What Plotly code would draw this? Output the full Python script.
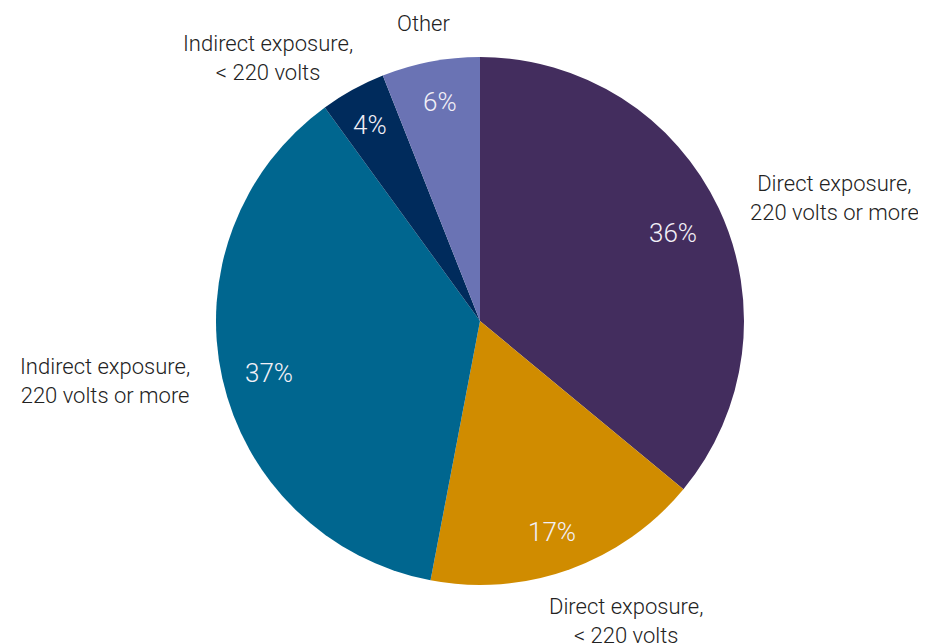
import math
import plotly.graph_objects as go

labels = ["Direct exposure,<br>220 volts or more", "Direct exposure,<br>< 220 volts",
          "Indirect exposure,<br>220 volts or more", "Indirect exposure,<br>< 220 volts", "Other"]
values = [36, 17, 37, 4, 6]
colors = ["#432D5E", "#D08C00", "#00668F", "#002B5C", "#6A73B4"]

W, H = 926, 644
cx, cy, R = 480, 320, 264  # desired on-screen pixel geometry of the pie
OFF_X, OFF_Y = -8, -7      # compensate for the page's default body margin


def to_paper(px, py):
    return (px + OFF_X) / W, 1 - (py + OFF_Y) / H


x0, y1 = to_paper(cx - R, cy - R)
x1, y0 = to_paper(cx + R, cy + R)

fig = go.Figure(go.Pie(
    labels=labels, values=values, sort=False, direction="clockwise", rotation=0,
    marker=dict(colors=colors, line=dict(width=0)),
    textinfo="none", hoverinfo="label+percent", showlegend=False,
    domain=dict(x=[x0, x1], y=[y0, y1]),
))

# label placement styles (anchor + extra shift in px), per slice
label_style = [
    dict(xanchor="left", yanchor="middle", dx=18, dy=-5),
    dict(xanchor="center", yanchor="middle", dx=53, dy=40),
    dict(xanchor="right", yanchor="middle", dx=-19, dy=0),
    dict(xanchor="right", yanchor="middle", dx=8, dy=-21),
    dict(xanchor="center", yanchor="middle", dx=-5, dy=-26),
]
pct_shift = [(-5, 5), (-2, 5), (3, 4), (-4, -4), (1, -4)]

total = sum(values)
cum = 0
annotations = []
for v, lab, st, ps in zip(values, labels, label_style, pct_shift):
    mid = (cum + v / 2) / total * 2 * math.pi
    cum += v
    sx, sy = math.sin(mid), -math.cos(mid)
    rp = 0.83 * R
    ax, ay = to_paper(cx + rp * sx + ps[0], cy + rp * sy + ps[1])
    annotations.append(dict(
        x=ax, y=ay, xref="paper", yref="paper", showarrow=False,
        text=f"{round(v / total * 100)}%", xanchor="center", yanchor="middle",
        font=dict(family="Roboto", size=26, color="#F2F0F7", weight=300)))
    ro = R + 12
    lx, ly = to_paper(cx + ro * sx + st["dx"], cy + ro * sy + st["dy"])
    annotations.append(dict(
        x=lx, y=ly, xref="paper", yref="paper", showarrow=False,
        text=lab, xanchor=st["xanchor"], yanchor=st["yanchor"], align="center",
        font=dict(family="Roboto", size=22, color="#222222", weight=300)))

fig.update_layout(
    width=W, height=H, margin=dict(l=0, r=0, t=0, b=0),
    paper_bgcolor="white", plot_bgcolor="white",
    annotations=annotations,
)
fig.write_html("out.html")
